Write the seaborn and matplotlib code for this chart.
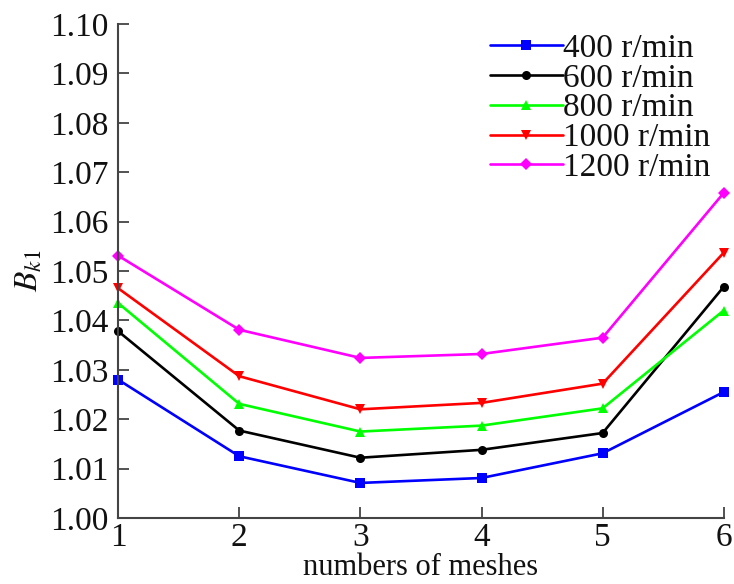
import matplotlib
matplotlib.use("Agg")
import matplotlib.pyplot as plt
import seaborn as sns
import pandas as pd

meshes = [1, 2, 3, 4, 5, 6]
speeds = ["400 r/min", "600 r/min", "800 r/min", "1000 r/min", "1200 r/min"]
bk_400 = [1.0280, 1.0125, 1.0071, 1.0081, 1.0131, 1.0255]
bk_600 = [1.0378, 1.0177, 1.0122, 1.0138, 1.0172, 1.0468]
bk_800 = [1.0435, 1.0231, 1.0175, 1.0187, 1.0222, 1.0420]
bk_1000 = [1.0465, 1.0287, 1.0220, 1.0233, 1.0272, 1.0537]
bk_1200 = [1.0531, 1.0381, 1.0324, 1.0332, 1.0365, 1.0658]
yticks = [1.00, 1.01, 1.02, 1.03, 1.04, 1.05, 1.06, 1.07, 1.08, 1.09, 1.10]

series = [bk_400, bk_600, bk_800, bk_1000, bk_1200]
rows = []
for name, vals in zip(speeds, series):
    for m, v in zip(meshes, vals):
        rows.append({"mesh": m, "bk": v, "speed": name})
df = pd.DataFrame(rows)

sns.set_theme(style="ticks")
plt.rcParams["font.family"] = ["Liberation Serif", "DejaVu Serif"]
plt.rcParams["mathtext.fontset"] = "stix"

fig = plt.figure(figsize=(7.34, 5.84), dpi=100)
ax = fig.add_axes([0.161, 0.113, 0.825, 0.846])

palette = {"400 r/min": "#0000ff", "600 r/min": "#000000", "800 r/min": "#00ff00",
           "1000 r/min": "#ff0000", "1200 r/min": "#ff00ff"}
markers = {"400 r/min": "s", "600 r/min": "o", "800 r/min": "^",
           "1000 r/min": "v", "1200 r/min": "D"}
sns.lineplot(data=df, x="mesh", y="bk", hue="speed", style="speed",
             hue_order=speeds, style_order=speeds, palette=palette,
             markers=markers, dashes=False, linewidth=1.9, markersize=6.5,
             markeredgewidth=0, ax=ax, clip_on=False)

ax.set_xlim(1, 6)
ax.set_ylim(1.00, 1.10)
ax.set_xticks(meshes)
ax.set_yticks(yticks)
ax.set_yticklabels([f"{t:.2f}" for t in yticks])
ax.tick_params(direction="in", length=8, width=1.3, color="#444444",
               labelsize=24, pad=7, labelcolor="#111111")
ax.tick_params(axis="x", pad=3)
for s in ["top", "right"]:
    ax.spines[s].set_visible(False)
for s in ["left", "bottom"]:
    ax.spines[s].set_color("#444444")
    ax.spines[s].set_linewidth(1.5)

ax.set_xlabel("numbers of meshes", fontsize=22, labelpad=0, color="#111111")
ax.set_ylabel(r"$B_{k\mathrm{1}}$", fontsize=24, labelpad=4, color="#111111")

leg = ax.legend(loc="upper right", bbox_to_anchor=(1.0, 1.008), frameon=False,
                fontsize=24, handlelength=2.2, handletextpad=0.0,
                labelspacing=-0.02, borderaxespad=0.0)
for t in leg.get_texts():
    t.set_color("#111111")

fig.savefig("out.png", dpi=100)
